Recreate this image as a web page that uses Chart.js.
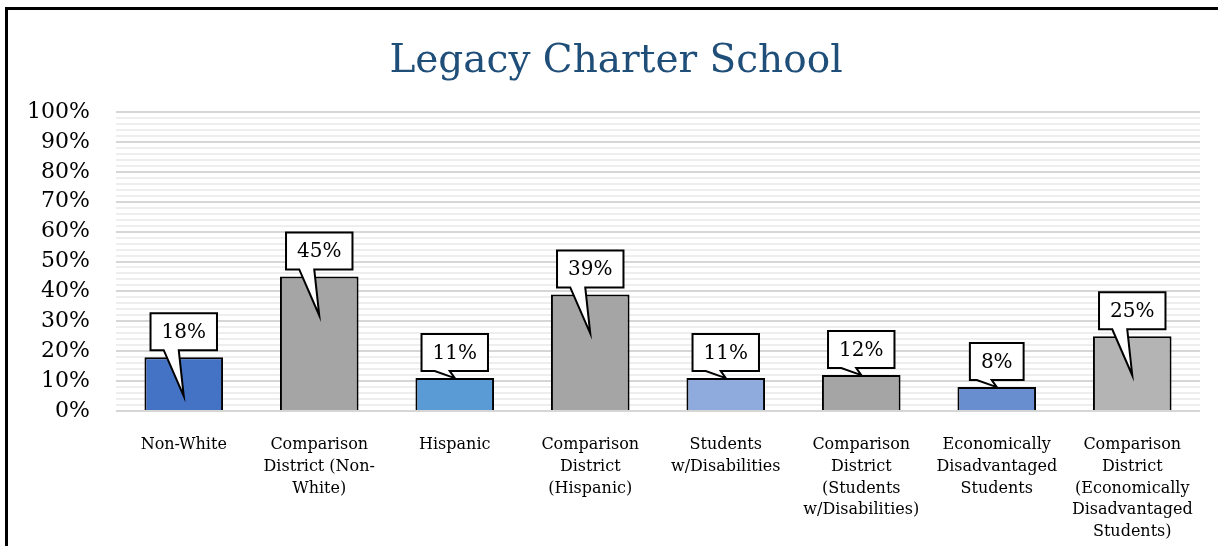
<!DOCTYPE html>
<html lang="en">
<head>
<meta charset="UTF-8" />
<title>Legacy Charter School</title>
<script src="https://cdn.jsdelivr.net/npm/chart.js"></script>
<style>
  html, body { margin: 0; padding: 0; background: #fff; }
  .wrap { position: relative; width: 1221px; height: 546px; overflow: hidden; }
  canvas { position: absolute; left: 0; top: 0; }
  /* frame of the original figure: only left and top edges are visible */
  .frame {
    position: absolute; left: 5px; top: 7px; width: 1210px; height: 560px;
    border-left: 3px solid #000; border-top: 3px solid #000;
    pointer-events: none;
  }
</style>
</head>
<body>
<div class="wrap">
  <canvas id="chart" width="1221" height="546"></canvas>
  <div class="frame"></div>
</div>
<script>
// Data
const categories = [
  "Non-White",
  ["Comparison", "District (Non-", "White)"],
  "Hispanic",
  ["Comparison", "District", "(Hispanic)"],
  ["Students", "w/Disabilities"],
  ["Comparison", "District", "(Students", "w/Disabilities)"],
  ["Economically", "Disadvantaged", "Students"],
  ["Comparison", "District", "(Economically", "Disadvantaged", "Students)"]
];
const values = [18, 45, 11, 39, 11, 12, 8, 25];
const barColors = ["#4472C4", "#A5A5A5", "#5B9BD5", "#A5A5A5", "#8FAADC", "#A5A5A5", "#698ED0", "#B4B4B4"];
const yTickValues = [0, 10, 20, 30, 40, 50, 60, 70, 80, 90, 100];
const chartTitle = "Legacy Charter School";

const SERIF = "'DejaVu Serif', serif";

// title drawn by hand so it can sit centred on the whole figure
const titlePlugin = {
  id: "figTitle",
  afterDraw(chart) {
    const ctx = chart.ctx;
    ctx.save();
    ctx.font = "39px " + SERIF;
    ctx.fillStyle = "#1F4E79";
    ctx.textAlign = "center";
    ctx.textBaseline = "alphabetic";
    ctx.fillText(chartTitle, 616, 72);
    ctx.restore();
  }
};

// wedge callouts with the value of each bar
const calloutPlugin = {
  id: "callouts",
  afterDatasetsDraw(chart) {
    const ctx = chart.ctx;
    const meta = chart.getDatasetMeta(0);
    ctx.save();
    ctx.font = "20px " + SERIF;
    meta.data.forEach((bar, i) => {
      const text = values[i] + "%";
      const w = ctx.measureText(text).width + 22;
      const h = 37;
      const cx = bar.x;
      const bottom = bar.y - 7;
      const top = bottom - h;
      const left = cx - w / 2;
      const right = cx + w / 2;
      const tipY = values[i] >= 15 ? bar.y + 39 : bar.y;
      ctx.beginPath();
      ctx.moveTo(left, top);
      ctx.lineTo(right, top);
      ctx.lineTo(right, bottom);
      ctx.lineTo(cx - 5, bottom);
      ctx.lineTo(cx, tipY);
      ctx.lineTo(cx - 20, bottom);
      ctx.lineTo(left, bottom);
      ctx.closePath();
      ctx.fillStyle = "#fff";
      ctx.fill();
      ctx.lineWidth = 2;
      ctx.lineJoin = "miter";
      ctx.strokeStyle = "#000";
      ctx.stroke();
      ctx.fillStyle = "#000";
      ctx.textAlign = "center";
      ctx.textBaseline = "middle";
      ctx.fillText(text, cx, (top + bottom) / 2 + 1);
    });
    ctx.restore();
  }
};

new Chart(document.getElementById("chart"), {
  type: "bar",
  data: {
    labels: categories,
    datasets: [{
      data: values,
      backgroundColor: barColors,
      borderColor: "#000",
      borderWidth: 2,
      barPercentage: 0.58,
      categoryPercentage: 1
    }]
  },
  options: {
    responsive: false,
    animation: false,
    devicePixelRatio: 1,
    layout: { padding: { top: 112, left: 10, right: 21, bottom: 0 } },
    plugins: {
      legend: { display: false },
      tooltip: { enabled: false },
      title: { display: false }
    },
    scales: {
      x: {
        grid: { display: false },
        border: { display: false },
        ticks: {
          color: "#000",
          font: { family: SERIF, size: 16, lineHeight: 1.36 },
          padding: 15,
          maxRotation: 0,
          autoSkip: false
        },
        afterFit(scale) { scale.height = 135; }
      },
      y: {
        min: 0,
        max: 100,
        border: { display: false },
        grid: {
          drawTicks: false,
          color: (c) => yTickValues.includes(c.tick.value) ? "#D6D6D6" : "#EEEEEE",
          lineWidth: 2
        },
        ticks: {
          stepSize: 2,
          autoSkip: false,
          padding: 26,
          color: "#000",
          font: { family: SERIF, size: 22 },
          callback: (v) => yTickValues.includes(v) ? v + "%" : ""
        },
        afterFit(scale) { scale.width = 106; }
      }
    }
  },
  plugins: [titlePlugin, calloutPlugin]
});
</script>
</body>
</html>
